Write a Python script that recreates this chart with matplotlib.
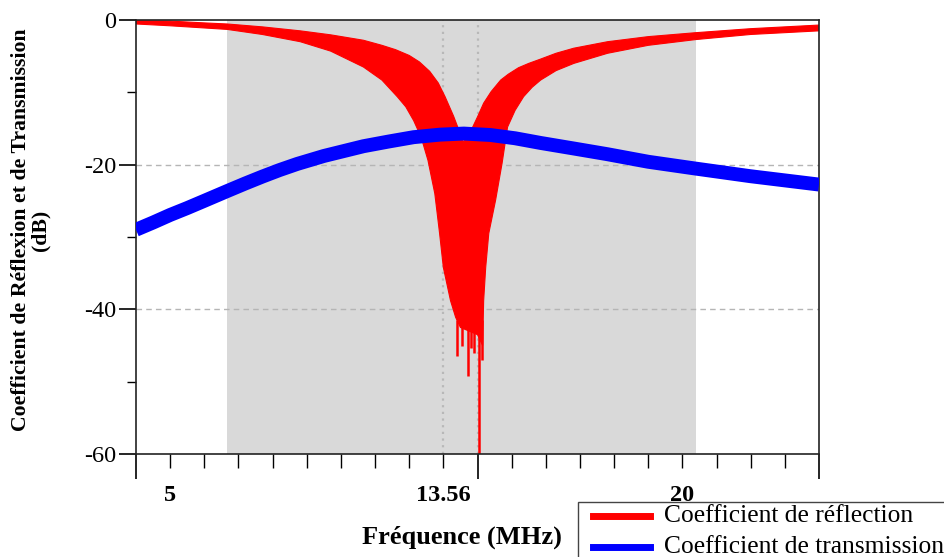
import numpy as np
import matplotlib
matplotlib.use("Agg")
import matplotlib.pyplot as plt
from matplotlib.lines import Line2D
from matplotlib.patches import Rectangle

plt.rcParams['font.family'] = ['Liberation Serif', 'DejaVu Serif']

# ---- data ----
# Reflection band: upper and lower envelope of the family of curves
refl_top_f = [4.0, 5.0, 6.0, 6.67, 7.7, 8.81, 9.7, 10.66, 11.2, 11.6, 12.0, 12.3, 12.6, 12.85,
              13.05, 13.3, 13.59, 13.86, 14.0, 14.18, 14.4, 14.68, 14.9, 15.2, 15.5, 15.85,
              16.3, 16.82, 17.81, 19.0, 20.4, 22.0, 24.0]
refl_top_db = [-0.1, -0.15, -0.4, -0.55, -0.95, -1.5, -2.05, -2.8, -3.5, -4.1, -4.9, -5.8, -7.1, -8.7,
               -10.6, -13.3, -16.9, -14.8, -13.4, -11.5, -9.9, -8.3, -7.5, -6.6, -6.0, -5.4,
               -4.6, -3.9, -3.0, -2.3, -1.75, -1.2, -0.7]
refl_low_f = [4.0, 5.0, 6.0, 6.67, 7.7, 8.81, 9.7, 10.66, 11.2, 11.65, 11.9, 12.13, 12.35, 12.55,
              12.75, 12.89, 13.0, 13.21, 13.36, 13.5, 13.75, 14.0, 14.15, 14.18, 14.24, 14.33,
              14.53, 14.72, 14.88, 15.1, 15.35, 15.6, 15.85, 16.3, 16.82, 17.81, 19.0, 20.4,
              22.0, 24.0]
refl_low_db = [-0.55, -0.8, -1.1, -1.3, -2.0, -3.0, -4.3, -6.5, -8.3, -10.6, -12.0, -13.9, -16.2, -19.4,
               -24.0, -29.5, -34.2, -38.8, -41.1, -42.5, -43.0, -43.5, -45.0, -38.8, -34.2, -29.5,
               -24.9, -19.8, -14.8, -12.5, -10.6, -9.3, -8.3, -7.0, -6.0, -4.6, -3.5, -2.7,
               -2.0, -1.5]
# deep resonance spikes
spike_f = [13.39, 13.55, 13.72, 13.8, 13.9, 14.03, 14.12]
spike_db = [-46.4, -45.0, -49.2, -45.4, -46.0, -60.0, -47.0]

# Transmission band (centre line)
trans_f = [4.0, 4.5, 5.0, 5.5, 6.0, 6.67, 7.2, 7.7, 8.2, 8.72, 9.5, 10.66, 11.4, 12.13, 12.9,
           13.6, 14.38, 15.1, 15.85, 16.8, 17.8, 19.0, 20.4, 22.0, 24.0]
trans_db = [-29.0, -28.0, -26.95, -26.0, -25.0, -23.65, -22.6, -21.65, -20.75, -19.9, -18.8, -17.45,
            -16.8, -16.2, -15.85, -15.7, -15.9, -16.35, -17.0, -17.75, -18.55, -19.6, -20.55,
            -21.6, -22.75]

band = (6.67, 20.4)
xtick_pos = [5, 13, 20]
xtick_labels = ['5', '13.56', '20']
ytick_pos = [0, -20, -40, -60]
ytick_labels = ['0', '-20', '-40', '-60']
legend_labels = ['Coefficient de réflection', 'Coefficient de transmission']
legend_colors = ['#ff0000', '#0000ff']

# ---- figure ----
W, H = 944, 557
fig = plt.figure(figsize=(W / 100, H / 100), dpi=100)
ax = fig.add_axes([136 / W, 1 - 454 / H, (819 - 136) / W, (454 - 20) / H])

ax.axvspan(band[0], band[1], color='#d9d9d9', lw=0, zorder=0)
for yv in (-20, -40):
    ax.axhline(yv, color='#b5b5b5', lw=1.0, ls=(0, (4, 3)), zorder=1)
for xv in (13, 14):
    ax.axvline(xv, color='#b8b8b8', lw=1.6, ls=(0, (1, 2)), zorder=1)

poly_f = np.concatenate([refl_top_f, refl_low_f[::-1]])
poly_db = np.concatenate([refl_top_db, refl_low_db[::-1]])
ax.fill(poly_f, poly_db, color='#ff0000', lw=0.8, ec='#ff0000', zorder=2)
ax.vlines(spike_f, -41.5, spike_db, color='#ff0000', lw=1.8, zorder=2)

ax.plot(trans_f, trans_db, color='#0000ff', lw=10, solid_capstyle='butt',
        solid_joinstyle='round', zorder=3)

ax.set_xlim(4, 24)
ax.set_ylim(-60, 0)

ax.set_xticks([4, 14, 24])
ax.set_xticklabels(['', '', ''])
ax.set_xticks(np.arange(4, 25, 1), minor=True)
minor_labels = []
for v in np.arange(4, 25, 1):
    minor_labels.append(xtick_labels[xtick_pos.index(v)] if v in xtick_pos else '')
ax.set_xticklabels(minor_labels, minor=True, fontweight='bold', fontsize=17.5)
ax.tick_params(axis='x', which='major', length=18, width=1.2, direction='out')
ax.tick_params(axis='x', which='minor', length=10, width=1.0, direction='out', pad=12)

ax.set_yticks(ytick_pos)
ax.set_yticklabels(ytick_labels, fontsize=17.5)
ax.set_yticks([-10, -30, -50], minor=True)
ax.tick_params(axis='y', which='major', length=12, width=1.2, direction='out', pad=2)
ax.tick_params(axis='y', which='minor', length=6.5, width=1.0, direction='out')

for s in ax.spines.values():
    s.set_linewidth(1.2)
    s.set_color('#222222')

fig.text(30.5 / W, 1 - 230 / H, 'Coefficient de Réflexion et de Transmission\n(dB)',
         rotation=90, ha='center', va='center', multialignment='center',
         fontsize=15.7, fontweight='bold', linespacing=0.95)
fig.text(462 / W, 1 - 537 / H, 'Fréquence (MHz)', ha='center', va='center',
         fontsize=19, fontweight='bold')

# legend box (partly beyond the figure edge, as in the reference)
fig.patches.append(Rectangle((578 / W, 1 - 600 / H), 420 / W, 98 / H,
                             transform=fig.transFigure, fc='white', ec='#444444', lw=1.0,
                             zorder=5))
row_y = [516, 547]
for lab, col, yy in zip(legend_labels, legend_colors, row_y):
    fig.lines.append(Line2D([593 / W, 650 / W], [1 - yy / H, 1 - yy / H],
                            transform=fig.transFigure, color=col, lw=5, zorder=6))
    fig.text(664 / W, 1 - yy / H, lab, ha='left', va='center', fontsize=18.4, zorder=6)

fig.savefig('out.png', dpi=100)
